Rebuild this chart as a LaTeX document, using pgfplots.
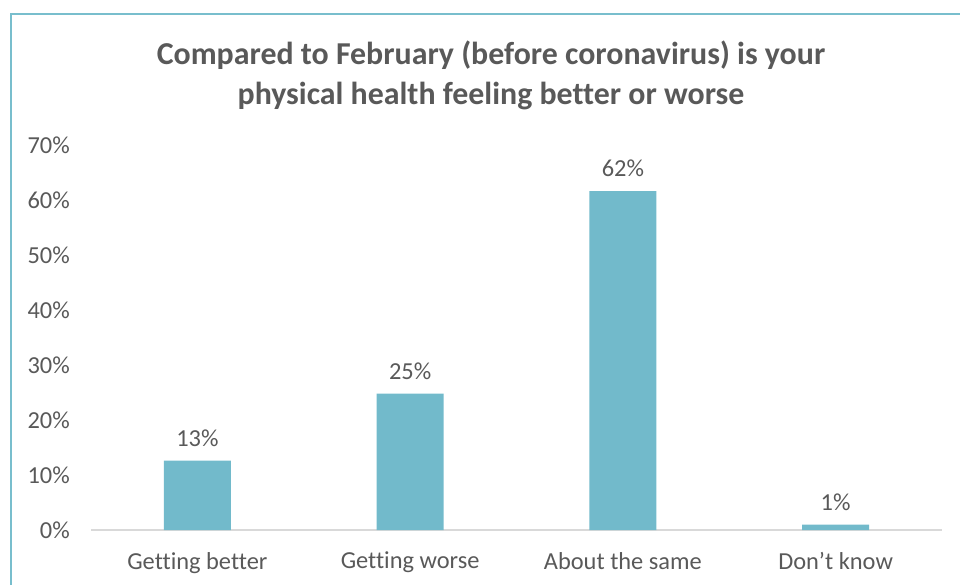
\documentclass[border=0pt]{standalone}
\usepackage{pgfplots}
\pgfplotsset{compat=1.18}
\usepackage{fontspec}
\setmainfont{Carlito}[Ligatures=NoCommon]
\definecolor{barc}{RGB}{114,186,203}
\definecolor{framec}{RGB}{120,190,205}
\definecolor{txt}{RGB}{89,89,89}
\definecolor{axc}{RGB}{217,217,217}
\begin{document}
\begin{tikzpicture}
\useasboundingbox (0,0) rectangle (960bp,585bp);
\draw[framec, line width=2.5bp] (11bp,0) -- (11bp,571bp) -- (960bp,571bp);
\node[txt, font=\fontsize{32}{40}\selectfont\bfseries, align=center] at (491bp,510bp)
  {Compared to February (before coronavirus) is your\\physical health feeling better or worse};
\begin{axis}[
  at={(91bp,55bp)}, anchor=south west,
  scale only axis, width=851bp, height=385bp,
  xmin=-0.5, xmax=3.5, ymin=0, ymax=70,
  xtick=data,
  xticklabels={Getting better,Getting worse,About the same,Don’t know},
  ytick={0,10,...,70},
  yticklabel={\pgfmathprintnumber{\tick}\%},
  /pgf/number format/assume math mode=true,
  axis line style={draw=none},
  major tick length=0pt,
  tick label style={font=\fontsize{24.5}{28}\selectfont, text=txt},
  yticklabel style={inner sep=0pt, xshift=-21bp},
  xticklabel style={inner sep=0pt, yshift=-22bp, anchor=north},
  ybar, bar width=67bp,
  clip=false,
  nodes near coords={\pgfmathprintnumber[fixed,precision=0]{\pgfplotspointmeta}\%},
  nodes near coords style={font=\fontsize{24.5}{28}\selectfont, text=txt, inner sep=0pt, yshift=14bp},
]
\draw[axc, line width=1.8bp] (axis cs:-0.5,0) -- (axis cs:3.5,0);
\addplot[fill=barc, draw=none] coordinates {(0,12.6) (1,24.8) (2,61.6) (3,1)};
\end{axis}
\end{tikzpicture}
\end{document}
